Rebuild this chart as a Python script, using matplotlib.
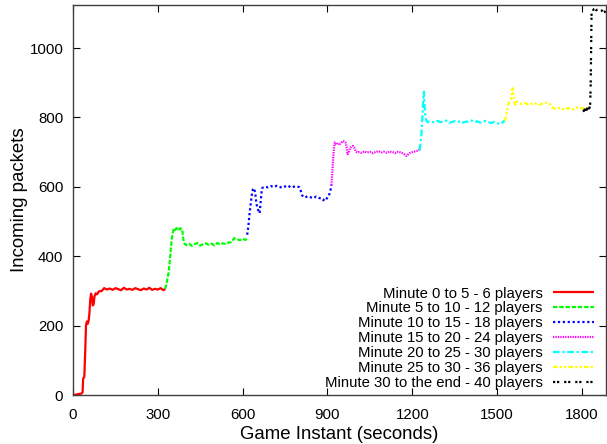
import matplotlib
matplotlib.use("Agg")
import matplotlib.pyplot as plt

plt.rcParams['font.family'] = ['Liberation Sans', 'DejaVu Sans']

# ---------------- data ----------------
red_t = [0, 10, 20, 30, 34, 36, 40, 43, 46, 49, 52, 55, 58, 61, 64, 67, 70, 73, 76, 80,
         85, 90, 95, 100, 105, 110, 115, 120,
         130, 140, 150, 160, 170, 180, 190, 200, 210, 220, 230, 240, 250, 260, 270, 280, 290, 300, 310, 320,
         326]
red_v = [0, 1, 3, 4, 8, 48, 52, 120, 200, 212, 205, 213, 235, 275, 292, 283, 258, 262, 284, 293,
         290, 297, 300, 299, 303, 308, 306, 304,
         307, 303, 308, 305, 302, 309, 304, 306, 303, 308, 305, 302, 307, 304, 309, 303, 306, 304, 308, 302,
         306]

green_t = [326, 330, 334, 338, 342, 346, 350, 354, 358, 362, 366, 370, 374, 378, 382, 386, 390, 394,
           400, 410, 420, 430, 440, 450, 460, 470, 480, 490, 500, 510, 520, 530, 540, 550, 560,
           565, 570, 580, 590, 600, 610, 616]
green_v = [306, 318, 335, 352, 385, 420, 455, 472, 480, 476, 481, 478, 482, 477, 480, 478, 450, 437,
           432, 436, 430, 435, 438, 431, 434, 437, 433, 436, 431, 438, 434, 437, 435, 439, 441,
           446, 452, 449, 446, 450, 447, 452]

blue_t = [616, 620, 624, 628, 632, 636, 640, 644, 648, 652, 656, 660, 664, 668, 672,
          680, 690, 700, 710, 720, 730, 740, 750, 760, 770, 780, 790, 800,
          805, 810, 815, 820, 830, 840, 850, 860, 870, 880,
          885, 890, 895, 900, 905, 910, 914]
blue_v = [462, 485, 520, 548, 575, 592, 596, 585, 555, 540, 530, 524, 560, 595, 598,
          601, 598, 602, 599, 603, 600, 597, 601, 604, 598, 600, 602, 599,
          590, 576, 571, 569, 573, 570, 567, 572, 568, 565,
          561, 566, 563, 570, 575, 588, 605]

magenta_t = [914, 917, 920, 923, 926, 930, 935, 940, 945, 950, 955, 960, 965, 968, 971, 975, 980, 985, 990, 995,
             1000, 1005,
             1010, 1020, 1030, 1040, 1050, 1060, 1070, 1080, 1090, 1100, 1110, 1120, 1130, 1140, 1150, 1160,
             1170, 1180, 1190, 1200, 1210, 1220,
             1226]
magenta_v = [605, 640, 680, 715, 728, 724, 722, 726, 724, 728, 732, 730, 726, 712, 694, 698, 712, 715, 718, 712,
             702, 699,
             700, 698, 702, 699, 701, 697, 700, 703, 699, 701, 698, 702, 700, 697, 701, 699,
             695, 689, 697, 700, 702, 704,
             708]

cyan_t = [1226, 1229, 1232, 1235, 1238, 1241, 1244, 1247, 1250, 1255, 1260,
          1270, 1280, 1290, 1300, 1310, 1320, 1330, 1340, 1350, 1360, 1370, 1380, 1390,
          1400, 1410, 1420, 1430, 1440, 1450, 1460, 1470, 1480, 1490, 1500, 1510, 1520,
          1528]
cyan_v = [705, 725, 750, 790, 840, 874, 820, 800, 790, 786, 789,
          787, 785, 790, 786, 788, 791, 784, 787, 789, 786, 790, 785, 788,
          787, 791, 786, 789, 785, 788, 790, 786, 784, 787, 784, 780, 786,
          792]

yellow_t = [1528, 1532, 1536, 1540, 1544, 1548, 1552, 1555, 1558, 1562, 1566, 1570,
            1580, 1590, 1600, 1610, 1620, 1630, 1640, 1650, 1660, 1670, 1680, 1690,
            1695, 1700,
            1710, 1720, 1730, 1740, 1750, 1760, 1770, 1780, 1790, 1800, 1810,
            1816]
yellow_v = [790, 805, 825, 840, 846, 852, 870, 884, 862, 840, 836, 845,
            840, 838, 841, 837, 839, 842, 838, 836, 840, 843, 839, 837,
            830, 826,
            824, 828, 825, 822, 827, 826, 823, 829, 825, 827, 824,
            828]

black_t = [1805, 1808, 1811, 1814, 1817, 1820, 1823, 1826, 1829, 1831, 1834, 1837, 1840,
           1845, 1850, 1855, 1860, 1865, 1870, 1875, 1880, 1885]
black_v = [822, 815, 828, 832, 818, 830, 834, 826, 836, 900, 1108, 1112, 1110,
           1113, 1109, 1111, 1106, 1110, 1108, 1103, 1105, 1102]

labels = ["Minute 0 to 5 - 6 players",
          "Minute 5 to 10 - 12 players",
          "Minute 10 to 15 - 18 players",
          "Minute 15 to 20 - 24 players",
          "Minute 20 to 25 - 30 players",
          "Minute 25 to 30 - 36 players",
          "Minute 30 to the end - 40 players"]

x_ticks = [0, 300, 600, 900, 1200, 1500, 1800]
y_ticks = [0, 200, 400, 600, 800, 1000]

# ---------------- figure ----------------
fig = plt.figure(figsize=(6.07, 4.44), dpi=100)
ax = fig.add_axes([73 / 607, 49 / 444, 533 / 607, 390 / 444])

series = [
    (red_t, red_v, "#ff0000", (0, ())),
    (green_t, green_v, "#00ff00", (0, (2.0, 0.8))),
    (blue_t, blue_v, "#0000ff", (0, (1.0, 1.2))),
    (magenta_t, magenta_v, "#ff00ff", (0, (0.6, 0.5))),
    (cyan_t, cyan_v, "#00ffff", (0, (3.0, 1.2, 1.0, 1.2))),
    (yellow_t, yellow_v, "#ffff00", (0, (2.0, 1.0, 1.0, 1.0, 1.0, 1.0))),
    (black_t, black_v, "#000000", (0, (1.0, 0.8, 1.0, 2.2))),
]

for (t, v, c, ls), lab in zip(series, labels):
    ax.plot(t, v, color=c, linestyle=ls, linewidth=1.6, label=lab)

ax.set_xlim(0, 1885)
ax.set_ylim(0, 1124)
ax.set_xticks(x_ticks)
ax.set_yticks(y_ticks)
ax.tick_params(direction='in', length=5, width=0.8, top=True, right=True,
               labelsize=10.8, colors='#000000')
ax.tick_params(axis='x', pad=9)
ax.tick_params(axis='y', pad=7)
for s in ax.spines.values():
    s.set_linewidth(1.0)
    s.set_color('#404040')

ax.set_xlabel("Game Instant (seconds)", fontsize=13.4, labelpad=3)
ax.set_ylabel("Incoming packets", fontsize=13.4, labelpad=1)

leg = ax.legend(loc='lower right', bbox_to_anchor=(0.9775, 0.013), frameon=False,
                markerfirst=False, fontsize=10.7, handlelength=2.75, handletextpad=0.7,
                labelspacing=0.06, borderpad=0, borderaxespad=0)

fig.savefig("out.png", dpi=100)
